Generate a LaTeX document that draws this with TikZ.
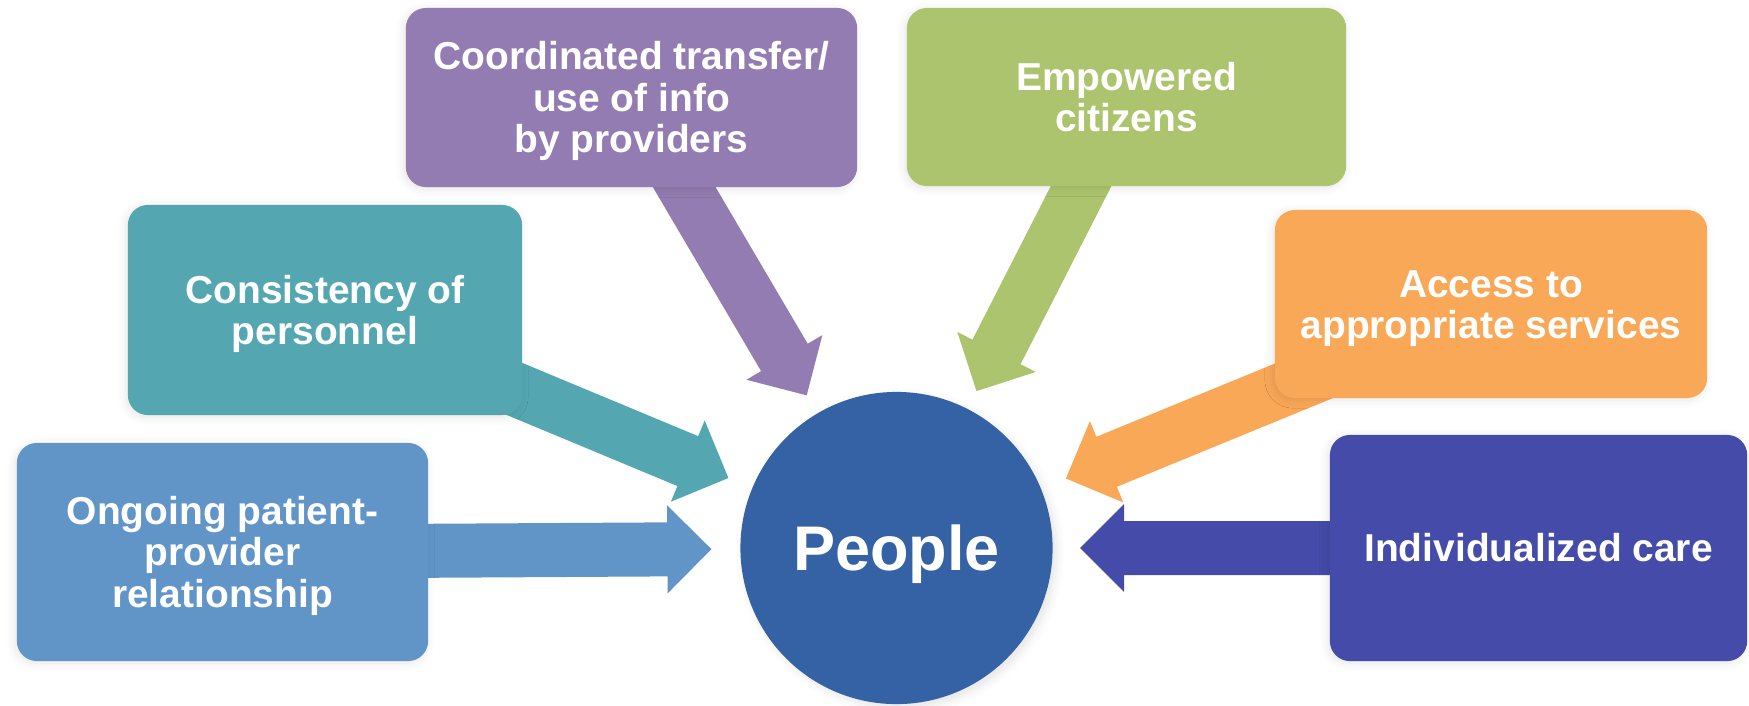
\documentclass[tikz,border=0pt]{standalone}
\usepackage{fontspec}
\setmainfont{Liberation Sans}
\usetikzlibrary{calc,backgrounds,shadows.blur}
\definecolor{cblue}{HTML}{6195C8}
\definecolor{cteal}{HTML}{54A7B1}
\definecolor{cpurple}{HTML}{937CB1}
\definecolor{cgreen}{HTML}{ACC46D}
\definecolor{corange}{HTML}{F9A857}
\definecolor{cindigo}{HTML}{444BA9}
\definecolor{cpeople}{HTML}{3562A4}
\newcommand\topstr{\rule{0pt}{10.93pt}}
\newcommand\botstr{\rule[-3pt]{0pt}{3pt}}
\newcommand\radarrow[3]{%
  \path ($(P.center)!#2!(#1.center)$) coordinate (tip-#1);
  \path ($(tip-#1)!0.44cm!(#1.center)$) coordinate (base-#1);
  \fill[#3] ($(#1.center)!0.27cm!90:(tip-#1)$)
    -- ($(base-#1)!0.27cm!90:(tip-#1)$)
    -- ($(base-#1)!0.44cm!90:(tip-#1)$)
    -- (tip-#1)
    -- ($(base-#1)!0.44cm!-90:(tip-#1)$)
    -- ($(base-#1)!0.27cm!-90:(tip-#1)$)
    -- ($(#1.center)!0.27cm!-90:(tip-#1)$) -- cycle;}
\begin{document}
\begin{tikzpicture}[x=0.01cm,y=-0.01cm,
  box/.style={rounded corners=0.2cm, inner sep=0pt, align=center, text=white,
    font=\fontsize{11.07pt}{11.8pt}\selectfont\bfseries,
    blur shadow={shadow xshift=-0.02cm,shadow yshift=-0.02cm,shadow opacity=10,shadow blur radius=0.08cm}},
  hub/.style={circle, inner sep=0pt, text=white, text depth=0pt, text height=12.84pt,
    font=\fontsize{17.93pt}{20pt}\selectfont\bfseries,
    blur shadow={shadow xshift=0.04cm,shadow yshift=-0.04cm,shadow opacity=10,shadow blur radius=0.08cm}}]
\useasboundingbox (0,0) rectangle (1749,705);
\node[box, fill=cblue, minimum width=4.11cm, minimum height=2.18cm] (ongoing) at (222.5,552) {\topstr Ongoing patient-\\provider\\relationship\botstr};
\node[box, fill=cteal, minimum width=3.94cm, minimum height=2.10cm] (consist) at (325,310) {\topstr Consistency of\\personnel\botstr};
\node[box, fill=cpurple, minimum width=4.51cm, minimum height=1.79cm] (coord) at (631.5,97.5) {\topstr Coordinated transfer/\\use of info\\by providers\botstr};
\node[box, fill=cgreen, minimum width=4.39cm, minimum height=1.78cm] (empow) at (1126.5,97) {\topstr Empowered\\citizens\botstr};
\node[box, fill=corange, minimum width=4.32cm, minimum height=1.88cm] (access) at (1491,304) {\topstr Access to\\appropriate services\botstr};
\node[box, fill=cindigo, minimum width=4.17cm, minimum height=2.26cm] (indiv) at (1538.5,548) {\topstr Individualized care\botstr};
\node[hub, fill=cpeople, minimum size=3.12cm] (P) at (896.5,548) {People};
\begin{pgfonlayer}{background}
\radarrow{ongoing}{1.85cm}{cblue}
\radarrow{consist}{1.82cm}{cteal}
\radarrow{coord}{1.77cm}{cpurple}
\radarrow{empow}{1.76cm}{cgreen}
\radarrow{access}{1.83cm}{corange}
\radarrow{indiv}{1.835cm}{cindigo}
\end{pgfonlayer}
\end{tikzpicture}
\end{document}
